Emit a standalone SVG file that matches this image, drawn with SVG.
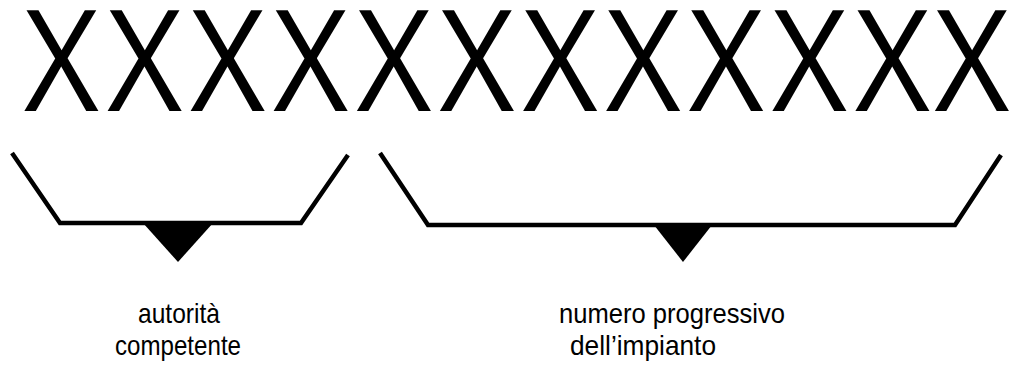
<svg xmlns="http://www.w3.org/2000/svg" xmlns:xlink="http://www.w3.org/1999/xlink" width="1012" height="367" viewBox="0 0 1012 367">
<style>
.x{font-family:"Open Sans","DejaVu Sans",sans-serif;font-size:141px;fill:#000;text-anchor:middle}
.lbl{font-family:"Liberation Sans",Arial,sans-serif;font-size:28px;fill:#000;text-anchor:middle}
.br{fill:none;stroke:#000;stroke-width:4.5;stroke-linejoin:miter}
.tri{fill:#000}
</style>
<defs>
<text id="X" class="x" x="0" y="0">X</text>
</defs>
<rect width="1012" height="367" fill="#fff"/>
<g id="code">
<use xlink:href="#X" transform="translate(61.5,111) scale(0.92,1)"/>
<use xlink:href="#X" transform="translate(144.6,111) scale(0.92,1)"/>
<use xlink:href="#X" transform="translate(227.7,111) scale(0.92,1)"/>
<use xlink:href="#X" transform="translate(310.8,111) scale(0.92,1)"/>
<use xlink:href="#X" transform="translate(393.9,111) scale(0.92,1)"/>
<use xlink:href="#X" transform="translate(477,111) scale(0.92,1)"/>
<use xlink:href="#X" transform="translate(560.1,111) scale(0.92,1)"/>
<use xlink:href="#X" transform="translate(643.2,111) scale(0.92,1)"/>
<use xlink:href="#X" transform="translate(726.3,111) scale(0.92,1)"/>
<use xlink:href="#X" transform="translate(809.4,111) scale(0.92,1)"/>
<use xlink:href="#X" transform="translate(892.5,111) scale(0.92,1)"/>
<use xlink:href="#X" transform="translate(972,111) scale(0.92,1)"/>
</g>
<g id="connectors">
<g id="bracket1">
<polyline class="br" points="12,153 60,223 301,223 348,155"/>
<polygon class="tri" points="143,223 213,223 178,262"/>
</g>
<g id="bracket2">
<polyline class="br" points="380,153 428,225 955,225 1001,155"/>
<polygon class="tri" points="654,225 712,225 683,262"/>
</g>
</g>
<g id="label1">
<text class="lbl" x="179" y="323" textLength="82" lengthAdjust="spacingAndGlyphs">autorità</text>
<text class="lbl" x="178" y="355" textLength="126" lengthAdjust="spacingAndGlyphs">competente</text>
</g>
<g id="label2">
<text class="lbl" x="672" y="323" textLength="226" lengthAdjust="spacingAndGlyphs">numero progressivo</text>
<text class="lbl" x="643" y="355" textLength="146" lengthAdjust="spacingAndGlyphs">dell’impianto</text>
</g>
</svg>
